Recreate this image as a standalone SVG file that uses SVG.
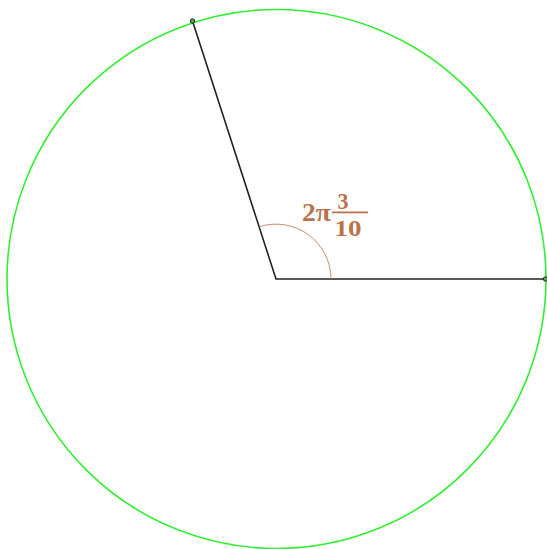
<svg xmlns="http://www.w3.org/2000/svg" width="547" height="549" viewBox="0 0 547 549">
<style>
.circ{fill:none;stroke:#33ee33;stroke-width:1.6}
.ray{fill:none;stroke:#222;stroke-width:1.6}
.arc{fill:none;stroke:#c0835c;stroke-width:0.9}
.pt{fill:#55aa55;stroke:#222;stroke-width:1}
.lbl{fill:#b8734d;font-family:"Liberation Serif",serif;font-weight:bold}
</style>
<rect width="547" height="549" fill="#fff"/>
<g id="circle"><circle class="circ" cx="276.5" cy="279" r="269.5"/></g>
<g id="connectors">
<path class="ray" d="M546,279 H276 L192.5,21"/>
<path class="arc" d="M331,279 A55,55 0 0 0 259.4,226.7"/>
</g>
<g id="p1"><circle class="pt" cx="192.5" cy="21" r="2.2"/></g>
<g id="p2"><circle class="pt" cx="545.5" cy="279" r="2.2"/></g>
<g id="label">
<text class="lbl" x="302" y="221" font-size="25" textLength="29" lengthAdjust="spacingAndGlyphs">2π</text>
<text class="lbl" x="343" y="209" font-size="24" text-anchor="middle" textLength="11" lengthAdjust="spacingAndGlyphs">3</text>
<rect x="332" y="211.5" width="36" height="1.8" fill="#b8734d"/>
<text class="lbl" x="348" y="236" font-size="24" text-anchor="middle" textLength="27" lengthAdjust="spacingAndGlyphs">10</text>
</g>
</svg>
